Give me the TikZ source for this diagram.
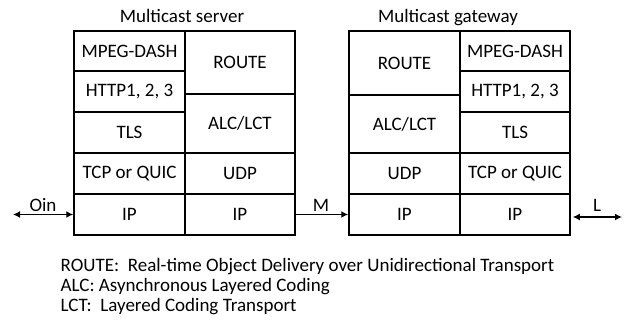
\documentclass[tikz,border=0pt]{standalone}
\usepackage{fontspec}
\setmainfont{Carlito}
\usepackage{tikz}
\usetikzlibrary{arrows.meta}
\tikzset{
  layer-cell/.style={draw=black, line width=1.5pt, inner sep=0pt,
    font=\fontsize{19}{20}\selectfont, align=center,
    minimum width=111pt, minimum height=41pt},
  link-arrow/.style={-{Latex[length=7pt,width=7pt]}, line width=1.4pt},
  bidir-link/.style={{Latex[length=7pt,width=7pt]}-{Latex[length=7pt,width=7pt]}, line width=1.4pt},
  link-label/.style={font=\fontsize{19}{20}\selectfont, inner sep=0pt, anchor=base},
  title-text/.style={font=\fontsize{19}{20}\selectfont, inner sep=0pt, anchor=base},
  caption-text/.style={font=\fontsize{19}{20}\selectfont, inner sep=0pt, anchor=base west}
}
\begin{document}
\begin{tikzpicture}[x=1pt, y=-1pt]
\useasboundingbox (0,0) rectangle (628,323);
% multicast server
\node[title-text] (server-title) at (182,23) {Multicast server};
\node[layer-cell, minimum height=40pt] (s-dash) at (129.5,51) {MPEG-DASH};
\node[layer-cell] (s-http) at (129.5,91.5) {HTTP1, 2, 3};
\node[layer-cell] (s-tls) at (129.5,132.5) {TLS};
\node[layer-cell] (s-tcp) at (129.5,173.5) {TCP or QUIC};
\node[layer-cell] (s-ip-a) at (129.5,214.5) {IP};
\node[layer-cell, minimum width=110pt, minimum height=63pt] (s-route) at (240,62.5) {ROUTE};
\node[layer-cell, minimum width=110pt, minimum height=59pt] (s-alc) at (240,123.5) {ALC/LCT};
\node[layer-cell, minimum width=110pt] (s-udp) at (240,173.5) {UDP};
\node[layer-cell, minimum width=110pt] (s-ip-b) at (240,214.5) {IP};
% multicast gateway
\node[title-text] (gateway-title) at (448,23) {Multicast gateway};
\node[layer-cell, minimum height=64pt] (g-route) at (404.5,63) {ROUTE};
\node[layer-cell, minimum height=58pt] (g-alc) at (404.5,124) {ALC/LCT};
\node[layer-cell] (g-udp) at (404.5,173.5) {UDP};
\node[layer-cell] (g-ip-a) at (404.5,214.5) {IP};
\node[layer-cell, minimum width=110pt, minimum height=40pt] (g-dash) at (515,51) {MPEG-DASH};
\node[layer-cell, minimum width=110pt] (g-http) at (515,91.5) {HTTP1, 2, 3};
\node[layer-cell, minimum width=110pt] (g-tls) at (515,132.5) {TLS};
\node[layer-cell, minimum width=110pt] (g-tcp) at (515,173.5) {TCP or QUIC};
\node[layer-cell, minimum width=110pt] (g-ip-b) at (515,214.5) {IP};
% links
\coordinate (oin-end) at (13,214.5);
\coordinate (l-end) at (622,217);
\draw[bidir-link] (oin-end) -- (s-ip-a.west);
\draw[link-arrow] (s-ip-b.east) -- (g-ip-a.west);
\draw[bidir-link] ([xshift=2pt]g-ip-b.east |- l-end) -- (l-end);
\node[link-label] (oin-label) at (43,211) {Oin};
\node[link-label] (m-label) at (321,211) {M};
\node[link-label] (l-label) at (597,211.5) {L};
% abbreviations
\node[caption-text] (def-route) at (60.5,271) {ROUTE:\ \ Real-time Object Delivery over Unidirectional Transport};
\node[caption-text] (def-alc) at (60.5,291.5) {ALC: Asynchronous Layered Coding};
\node[caption-text] (def-lct) at (60.5,311.5) {LCT:\ \ Layered Coding Transport};
\end{tikzpicture}
\end{document}
